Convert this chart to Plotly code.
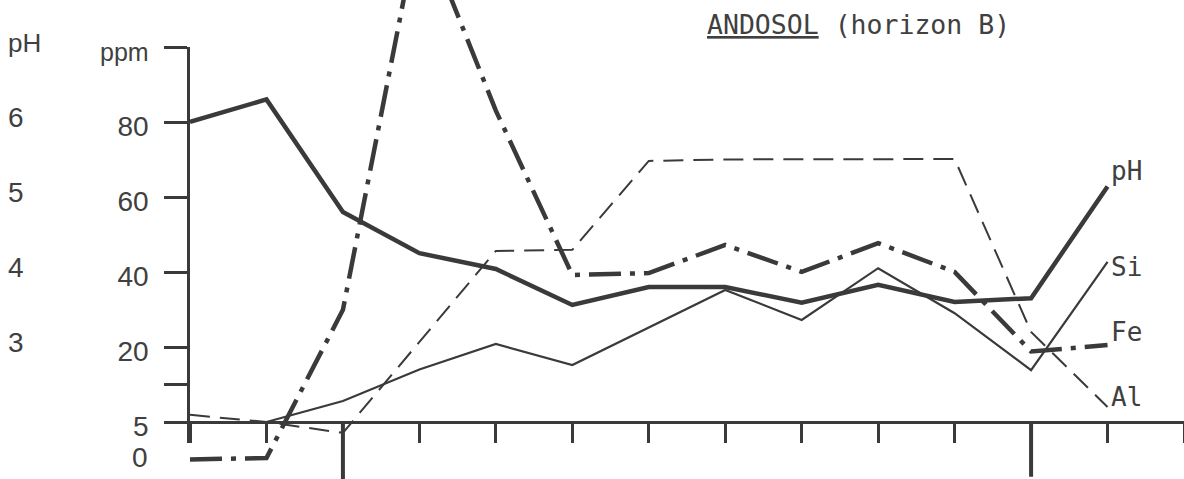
import plotly.graph_objects as go

# ---------------- data ----------------
positions = list(range(13))                      # sampling positions along the profile
ph_values = [6.0, 6.3, 4.8, 4.25, 4.04, 3.56, 3.8, 3.8, 3.59, 3.83, 3.6, 3.65, 5.14]
# ppm series in the axis' linear units (axis is broken below 10: "5" sits at 0, "0" at -10)
si_values = [None, 0, 5.6, 14, 20.8, 15.2, 25.3, 35.2, 27.2, 41, 29, 13.8, 42.7]
fe_values = [-10, -9.6, 29.9, 134, 83, 39.2, 39.7, 47.2, 40, 47.7, 40, 18.8, 20.5]
al_values = [1.9, 0, -2.9, 21.3, 45.6, 45.9, 69.6, 70, 70, 70, 70.1, 24, 4]

ppm_tickvals = [100, 80, 60, 40, 20, 10, 0]
ppm_ticktext = ["<span style='font-size:25px'>ppm</span>", "80", "60", "40", "20", "", "5"]
zero_label = ("0", -10)
ph_label_pos = [100, 80, 60, 40, 20]
ph_label_text = ["pH", "6", "5", "4", "3"]
series_names = ["pH", "Si", "Fe", "Al"]
horizon_breaks = [2, 11]
title_text = "<u>ANDOSOL</u> (horizon B)"

# pH is drawn against the ppm scale: pH 3 -> 20, pH 6 -> 80
ph_on_axis = [20 * (p - 2) for p in ph_values]

INK = "#3a3a3a"
TXT = "#404040"
SANS = "Liberation Sans"
MONO = "DejaVu Sans Mono"

W, H = 1184, 479
ML = 190
Y_RANGE = [-15.2, 112.5]

fig = go.Figure()

fig.add_trace(go.Scatter(x=positions, y=al_values, mode="lines",
                         line=dict(color=INK, width=2, dash="20px,10px"),
                         hoverinfo="skip", showlegend=False))
fig.add_trace(go.Scatter(x=positions, y=si_values, mode="lines",
                         line=dict(color=INK, width=2.2),
                         hoverinfo="skip", showlegend=False))
fig.add_trace(go.Scatter(x=positions, y=fe_values, mode="lines",
                         line=dict(color=INK, width=4.5, dash="32px,9px,5px,9px"),
                         hoverinfo="skip", showlegend=False))
fig.add_trace(go.Scatter(x=positions, y=ph_on_axis, mode="lines",
                         line=dict(color=INK, width=4.5),
                         hoverinfo="skip", showlegend=False))
# invisible trace so that the ppm axis subplot is created
fig.add_trace(go.Scatter(x=[None], y=[None], yaxis="y2", mode="lines",
                         hoverinfo="skip", showlegend=False))

# long horizon-boundary ticks
for b, bottom in zip(horizon_breaks, [-15.2, -14.6]):
    fig.add_shape(type="line", xref="x", yref="y", x0=b, x1=b, y0=0, y1=bottom,
                  line=dict(color=INK, width=4))

annotations = []
# pH scale labels
for v, t in zip(ph_label_pos, ph_label_text):
    annotations.append(dict(xref="paper", yref="y", x=(6 - ML) / (W - ML), y=v,
                            xanchor="left", yanchor="middle", yshift=4,
                            text=t, showarrow=False,
                            font=dict(family=SANS, size=26 if t == "pH" else 28, color=TXT)))
# the "0" label of the broken ppm axis
annotations.append(dict(xref="paper", yref="y", x=-(40) / (W - ML), y=zero_label[1],
                        xanchor="right", yanchor="middle", yshift=2,
                        text=zero_label[0], showarrow=False,
                        font=dict(family=SANS, size=28, color=TXT)))
# series end labels
ends = [ph_on_axis[-1], si_values[-1], fe_values[-1], al_values[-1]]
yshifts = [15, -5, 13, 10]
for name, yv, ys in zip(series_names, ends, yshifts):
    annotations.append(dict(xref="x", yref="y", x=positions[-1], y=yv,
                            xanchor="left", yanchor="middle", xshift=1, yshift=ys,
                            text=name, showarrow=False,
                            font=dict(family=MONO, size=26, color=TXT)))
# title
annotations.append(dict(xref="paper", yref="paper", x=(705 - ML) / (W - ML), y=1 - 24 / H,
                        xanchor="left", yanchor="middle", text=title_text, showarrow=False,
                        font=dict(family=MONO, size=26.5, color=TXT)))

fig.update_layout(
    width=W, height=H,
    margin=dict(l=ML, r=0, t=0, b=0, pad=0),
    paper_bgcolor="white", plot_bgcolor="rgba(0,0,0,0)",
    showlegend=False,
    xaxis=dict(domain=[0, 1], range=[0, 13], anchor="free", position=(H - 422) / H,
               showline=True, linewidth=3, linecolor=INK,
               ticks="outside", ticklen=19, tickwidth=2.5, tickcolor=INK,
               tickvals=positions + [13], showticklabels=False,
               showgrid=False, zeroline=False, fixedrange=True, automargin=False),
    yaxis=dict(domain=[0, 1], range=Y_RANGE, visible=False, fixedrange=True),
    yaxis2=dict(domain=[(H - 443) / H, (H - 47) / H], range=[-5.6, 100], anchor="x",
                side="left", showline=True, linewidth=2.5, linecolor=INK,
                ticks="outside", ticklen=23, tickwidth=2.5, tickcolor=INK,
                tickvals=ppm_tickvals, ticktext=ppm_ticktext, ticklabelstandoff=10,
                ticklabelshift=4,
                tickfont=dict(family=SANS, size=28, color=TXT),
                showgrid=False, zeroline=False, fixedrange=True, automargin=False),
    annotations=annotations,
)

fig.write_html("out.html", config={"displayModeBar": False},
               post_script="document.body.style.margin='0';document.body.style.overflow='hidden';")
